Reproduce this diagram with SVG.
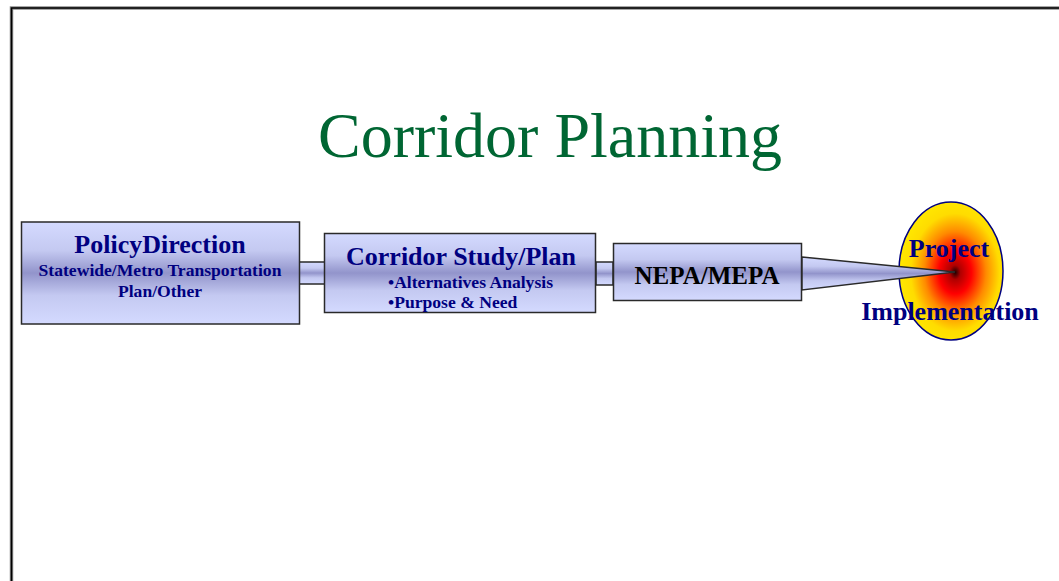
<svg xmlns="http://www.w3.org/2000/svg" width="1059" height="581" viewBox="0 0 1059 581">
<defs>
<style>
.box{stroke:#2a2a2a;stroke-width:1.5;fill:url(#band)}
.conn{stroke:#2a2a2a;stroke-width:1.5;fill:url(#band)}
.lbl{font-family:"Liberation Serif","Times New Roman",serif;font-weight:bold;fill:#000080;text-anchor:middle}
.big{font-size:26px}
.small{font-size:17.6px}
.left{text-anchor:start}
</style>
<linearGradient id="band" x1="0" y1="0" x2="0" y2="1">
<stop offset="0" stop-color="#d4daff"/>
<stop offset="0.28" stop-color="#c4c9f1"/>
<stop offset="0.5" stop-color="#9294cb"/>
<stop offset="0.72" stop-color="#c4c9f1"/>
<stop offset="1" stop-color="#d4daff"/>
</linearGradient>
<radialGradient id="burst" cx="0.54" cy="0.51" r="0.52">
<stop offset="0" stop-color="#200000"/>
<stop offset="0.1" stop-color="#b00000"/>
<stop offset="0.3" stop-color="#ff0000"/>
<stop offset="0.57" stop-color="#ff8a00"/>
<stop offset="0.82" stop-color="#ffdc00"/>
<stop offset="1" stop-color="#ffe600"/>
</radialGradient>
</defs>
<rect width="1059" height="581" fill="#ffffff"/>
<path d="M11.5 590 V8 H1070" fill="none" stroke="#8a8a8a" stroke-width="3.5"/>
<path d="M11.5 590 V8 H1070" fill="none" stroke="#000000" stroke-width="1.6"/>
<text x="550" y="157" font-family="'Liberation Serif','Times New Roman',serif" font-size="64" fill="#006633" text-anchor="middle">Corridor Planning</text>
<g id="connectors">
<rect class="conn" x="299" y="262" width="26" height="22"/>
<rect class="conn" x="596" y="262" width="17" height="23"/>
</g>
<g id="policy">
<rect class="box" x="21.5" y="222" width="278" height="102"/>
<text class="lbl big" x="160" y="253">PolicyDirection</text>
<text class="lbl small" x="160" y="276">Statewide/Metro Transportation</text>
<text class="lbl small" x="160" y="297">Plan/Other</text>
</g>
<g id="corridor">
<rect class="box" x="324.5" y="233.5" width="271" height="79"/>
<text class="lbl big" x="461" y="265">Corridor Study/Plan</text>
<text class="lbl small left" x="388" y="288">•Alternatives Analysis</text>
<text class="lbl small left" x="388" y="308">•Purpose &amp; Need</text>
</g>
<g id="nepa">
<rect class="box" x="613.5" y="243.5" width="188" height="57"/>
<text class="lbl big" x="707" y="284" style="fill:#000000;font-size:25px">NEPA/MEPA</text>
</g>
<g id="project">
<ellipse cx="951" cy="271" rx="52" ry="69" fill="url(#burst)" stroke="#000080" stroke-width="1.5"/>
<polygon class="conn" points="802,257 955,272 802,290"/>
<text class="lbl big" x="949" y="257">Project</text>
<text class="lbl big" x="950" y="320">Implementation</text>
</g>
</svg>
